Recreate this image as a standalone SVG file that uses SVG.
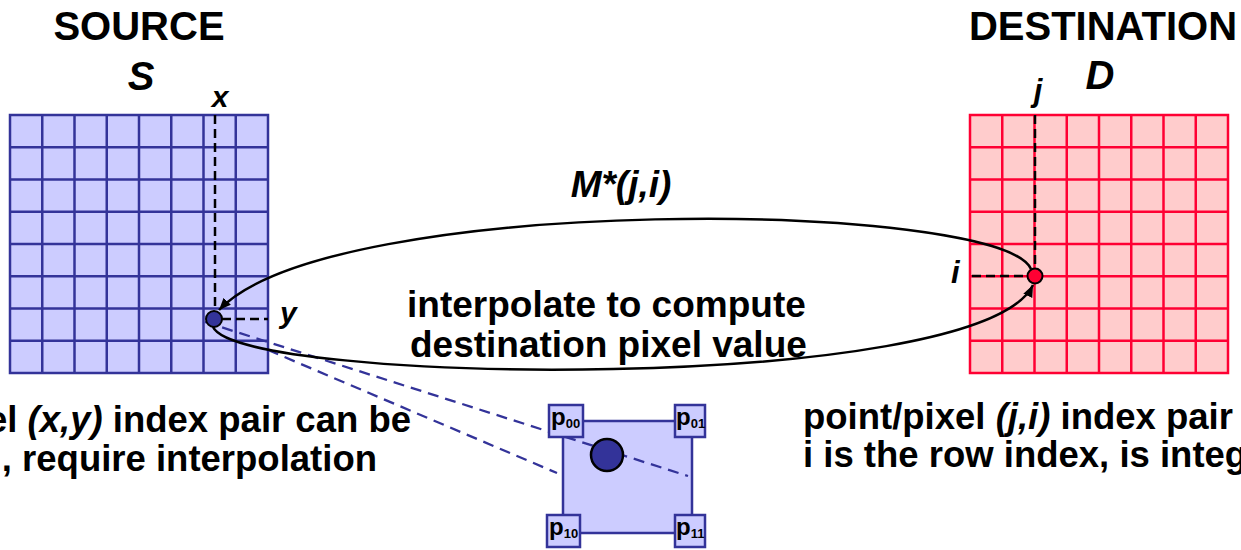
<svg xmlns="http://www.w3.org/2000/svg" width="1241" height="550" viewBox="0 0 1241 550">
<defs>
<style>
.t{font-family:"Liberation Sans",Arial,sans-serif;font-weight:bold;fill:#000}
.it{font-style:italic}
.sg{fill:#ccccff;stroke:#333399;stroke-width:2.5}
.sl{fill:none;stroke:#333399;stroke-width:2.5}
.dg{fill:#ffcccc;stroke:#ff0033;stroke-width:2.5}
.dl{fill:none;stroke:#ff0033;stroke-width:2.5}
.kd{fill:none;stroke:#000;stroke-width:2.5;stroke-dasharray:9,5}
.bd{fill:none;stroke:#333399;stroke-width:2.3;stroke-dasharray:11,7}
.arc{fill:none;stroke:#000;stroke-width:2.5}
.pl{font-size:24px}
.sub{font-size:13px}
</style>
<marker id="arr" viewBox="0 0 12 10" refX="12" refY="5" markerWidth="12" markerHeight="10" orient="auto" markerUnits="userSpaceOnUse">
<path d="M0,0 L12,5 L0,10 z" fill="#000"/>
</marker>
</defs>

<g id="titles">
<text class="t" x="139" y="40" font-size="40" text-anchor="middle">SOURCE</text>
<text class="t it" x="141" y="90" font-size="40" text-anchor="middle">S</text>
<text class="t" x="1103" y="40" font-size="40" text-anchor="middle">DESTINATION</text>
<text class="t it" x="1100" y="89" font-size="40" text-anchor="middle">D</text>
</g>

<g id="source-grid">
<rect class="sg" x="10" y="115" width="258" height="258"/>
<path class="sl" d="M42.25,115V373M74.5,115V373M106.75,115V373M139,115V373M171.25,115V373M203.5,115V373M235.75,115V373M10,147.25H268M10,179.5H268M10,211.75H268M10,244H268M10,276.25H268M10,308.5H268M10,340.75H268"/>
</g>

<g id="dest-grid">
<rect class="dg" x="970" y="115" width="258" height="258"/>
<path class="dl" d="M1002.25,115V373M1034.5,115V373M1066.75,115V373M1099,115V373M1131.25,115V373M1163.5,115V373M1195.75,115V373M970,147.25H1228M970,179.5H1228M970,211.75H1228M970,244H1228M970,276.25H1228M970,308.5H1228M970,340.75H1228"/>
</g>

<g id="inset">
<rect class="sg" x="563" y="421" width="129" height="112"/>
</g>

<g id="connectors">
<path class="kd" d="M215,115V311M222,319H268"/>
<path class="kd" d="M1035,115V268M972,276H1027"/>
<path class="bd" d="M205,322L688,476"/>
<path class="bd" d="M268,350L557,473"/>
<path class="arc" d="M1031,269C1000,200 330,192 219,310" marker-end="url(#arr)"/>
<path class="arc" d="M213,327C240,385 980,395 1033,285" marker-end="url(#arr)"/>
</g>

<g id="corners">
<g id="p00"><rect class="sg" x="549" y="405" width="34" height="32"/><text class="t pl" x="551" y="425">p<tspan class="sub" dy="3">00</tspan></text></g>
<g id="p01"><rect class="sg" x="675" y="405" width="30" height="32"/><text class="t pl" x="676" y="425">p<tspan class="sub" dy="3">01</tspan></text></g>
<g id="p10"><rect class="sg" x="547" y="515" width="33" height="32"/><text class="t pl" x="549" y="535">p<tspan class="sub" dy="3">10</tspan></text></g>
<g id="p11"><rect class="sg" x="675" y="515" width="30" height="32"/><text class="t pl" x="676" y="535">p<tspan class="sub" dy="3">11</tspan></text></g>
</g>

<g id="dots">
<circle cx="214" cy="319" r="8" fill="#333399" stroke="#000" stroke-width="2"/>
<circle cx="1035" cy="276" r="7.5" fill="#ff0033" stroke="#000" stroke-width="2"/>
<circle cx="607" cy="455" r="16" fill="#333399" stroke="#000" stroke-width="2.5"/>
</g>

<g id="labels">
<text class="t it" x="220" y="107" font-size="30" text-anchor="middle">x</text>
<text class="t it" x="280" y="323" font-size="30">y</text>
<text class="t it" x="951" y="283" font-size="31">i</text>
<text class="t it" x="1038" y="101" font-size="31" text-anchor="middle">j</text>
<text class="t it" x="621" y="197" font-size="37" text-anchor="middle">M*(j,i)</text>
<text class="t" x="407" y="317" font-size="37">interpolate to compute</text>
<text class="t" x="410" y="357" font-size="37">destination pixel value</text>
<text class="t" x="411" y="432" font-size="36.5" text-anchor="end">el <tspan class="it">(x,y)</tspan> index pair can be</text>
<text class="t" x="377" y="471" font-size="36.5" text-anchor="end">, require interpolation</text>
<text class="t" x="803" y="429" font-size="36.5">point/pixel <tspan class="it">(j,i)</tspan> index pair</text>
<text class="t" x="803" y="467" font-size="36.5">i is the row index, is integ</text>
</g>
</svg>
